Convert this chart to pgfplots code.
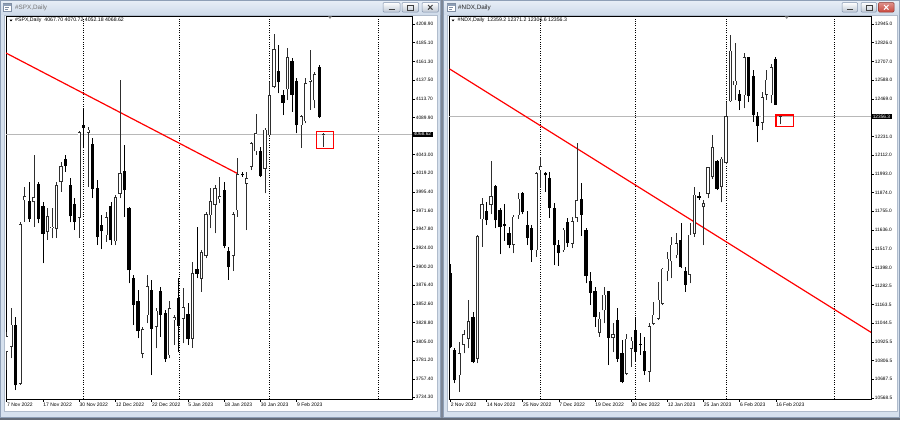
\documentclass[border=0pt]{standalone}
\usepackage{pgfplots}
\usepackage{pgfplotstable}
\pgfplotsset{compat=1.18}
\usepackage{fontspec}
\setmainfont{Liberation Sans}
\definecolor{frame}{HTML}{8E9FB6}
\definecolor{winbg}{HTML}{D6E1EE}
\definecolor{tbtop}{HTML}{E6EDF6}
\definecolor{tbbot}{HTML}{CFDBEA}
\definecolor{sep}{HTML}{7D8796}
\definecolor{btnb}{HTML}{8394AD}
\definecolor{closer}{HTML}{C9483E}
\definecolor{upc}{HTML}{2E2E2E}
\newcommand\lab{\fontsize{4.8bp}{5.5bp}\selectfont}
\newcommand\xlab{\fontsize{5bp}{6bp}\selectfont}
\newcommand\ttl{\fontsize{6.3bp}{7.5bp}\selectfont}
\newcommand\info{\fontsize{5.2bp}{6bp}\selectfont}

\pgfplotstableread{
i o h l c
1 3792.0 3817.4 3768.7 3811.1
2 3798.3 3847.1 3783.5 3825.9
4 3751.7 3957.4 3749.6 3954.0
5 3985.0 4001.9 3957.4 3989.2
7 3982.8 4042.2 3951.0 3987.9
10 3944.7 3974.4 3934.1 3963.8
11 3949.5 3974.4 3936.2 3950.5
12 3948.9 4008.3 3937.0 4003.2
13 4008.3 4033.7 3995.6 4027.4
17 3962.5 4073.2 3937.0 4071.1
19 4071.1 4077.4 4001.9 4074.0
23 3940.4 3970.1 3931.9 3962.5
25 3932.8 3991.3 3927.7 3987.9
26 3993.4 4137.6 3987.1 4018.9
31 3789.9 3823.8 3783.5 3820.4
32 3838.6 3889.5 3828.0 3874.7
34 3823.8 3847.1 3796.2 3843.7
37 3787.7 3856.5 3783.5 3847.1
38 3832.3 3838.6 3800.5 3835.2
40 3834.4 3872.6 3802.6 3848.0
42 3808.9 3906.5 3797.1 3891.7
44 3885.3 3921.3 3868.3 3918.4
45 3914.1 3970.1 3910.7 3966.7
46 3965.9 3999.8 3948.9 3982.8
47 3979.4 4004.0 3942.5 3999.8
48 3986.2 4014.6 3980.7 3989.2
51 3914.1 3970.1 3894.6 3966.7
52 3972.2 4038.0 3963.8 4017.6
54 4006.2 4021.0 3946.8 4012.5
55 4027.4 4059.2 4023.1 4057.1
56 4047.3 4094.4 4042.2 4069.8
58 4025.3 4076.2 3993.4 4074.0
59 4067.7 4135.5 4065.5 4117.7
60 4129.2 4195.8 4127.0 4176.7
63 4126.2 4177.9 4112.2 4166.1
66 4080.4 4093.1 4051.5 4091.0
67 4085.5 4139.8 4082.5 4133.4
68 4135.5 4175.8 4099.5 4137.6
69 4112.2 4148.3 4101.6 4144.9
71 4067.70 4070.72 4052.18 4068.62
}\spxup

\pgfplotstableread{
i o h l c
3 3825.9 3836.5 3743.2 3749.6
6 3982.8 4008.3 3957.4 3960.8
8 4004.9 4008.3 3955.3 3960.8
9 3976.5 3982.8 3904.4 3942.5
14 4036.7 4042.2 4021.0 4028.6
15 4004.0 4013.4 3956.5 3964.6
16 3979.4 3987.1 3946.8 3957.4
18 4080.4 4101.6 4050.7 4077.0
20 4055.8 4063.4 3987.1 3999.8
21 3999.8 4010.4 3927.7 3938.3
22 3953.2 3965.9 3922.2 3945.5
24 3977.3 3982.8 3927.7 3934.1
27 4021.9 4054.9 3963.8 3997.7
28 3974.4 3976.5 3878.9 3895.9
29 3885.3 3889.5 3825.9 3852.2
30 3856.5 3870.4 3808.9 3818.3
33 3870.4 3883.2 3762.3 3821.7
35 3869.2 3874.7 3811.1 3839.5
36 3840.8 3845.0 3779.3 3782.7
39 3859.8 3885.3 3792.0 3825.1
41 3839.5 3853.5 3800.5 3808.1
43 3897.2 3951.0 3885.3 3891.7
49 3997.7 4008.3 3923.5 3926.9
50 3919.2 3925.6 3883.2 3900.1
53 4018.0 4021.0 4014.6 4016.8
57 4046.5 4052.8 4014.6 4015.9
61 4148.3 4182.2 4120.7 4135.5
62 4117.7 4124.9 4093.1 4109.2
64 4161.8 4165.2 4097.4 4119.4
65 4135.5 4139.8 4069.8 4080.4
70 4153.3 4156.7 4088.9 4091.0
}\spxdn

\pgfplotstableread{
i o h l c
3 10714.8 10926.6 10608.9 10852.4
4 10909.6 11000.7 10852.4 10973.2
5 10947.7 11191.3 10884.2 11053.6
7 10820.7 11604.3 10788.9 11593.7
8 11706.0 11837.3 11530.2 11799.2
10 11799.2 12076.6 11735.6 11847.9
15 11545.0 11731.4 11487.8 11718.7
16 11731.4 11869.1 11706.0 11833.1
20 11509.0 12006.7 11466.6 11996.1
21 12017.3 12102.0 11905.1 12038.5
26 11509.0 11646.7 11498.4 11636.1
28 11551.4 11720.8 11519.6 11689.0
29 11714.5 12186.8 11689.0 11824.6
34 10985.9 11117.2 10958.3 11070.6
35 11127.8 11276.0 11043.0 11223.1
37 10952.0 11043.0 10858.8 10973.2
40 10725.3 10973.2 10714.8 10943.5
41 10884.2 10958.3 10767.7 10930.8
45 10736.0 11043.0 10672.4 11021.9
46 11043.0 11180.7 11032.5 11096.0
47 11074.8 11307.8 11064.2 11191.3
48 11170.1 11392.5 11159.5 11388.3
49 11375.6 11494.2 11312.0 11451.8
50 11439.1 11593.7 11329.0 11540.8
51 11477.2 11614.9 11456.1 11551.4
54 11354.4 11678.5 11297.2 11604.3
55 11614.9 11911.4 11593.7 11858.5
57 11784.4 11826.7 11540.8 11805.5
58 11869.1 12038.5 11837.3 12032.2
59 11975.0 12239.7 11958.0 12159.2
61 11911.4 12102.0 11811.9 12087.2
62 12066.0 12447.3 12053.3 12356.2
63 12455.8 12875.1 12451.5 12773.5
64 12557.4 12822.2 12462.1 12582.8
66 12493.9 12758.6 12409.2 12731.1
70 12320.2 12515.1 12271.5 12476.9
71 12498.1 12652.7 12462.1 12589.2
72 12493.9 12688.7 12440.9 12667.6
74 12359.2 12371.2 12306.6 12356.3
}\ndxup

\pgfplotstableread{
i o h l c
1 11360.0 11420.0 10884.2 10894.8
2 10873.6 10884.2 10661.8 10683.0
6 11079.1 11117.2 10788.9 10799.5
9 11752.6 11816.1 11667.9 11699.6
11 11911.4 11922.0 11646.7 11699.6
12 11763.2 11778.0 11481.5 11657.3
13 11669.0 11799.2 11568.3 11665.0
14 11614.9 11657.3 11519.6 11545.0
17 11869.1 11879.7 11735.6 11752.6
18 11667.9 11756.8 11540.8 11587.4
19 11646.7 11667.9 11434.9 11509.0
22 11996.1 12006.7 11879.7 11985.6
23 11964.4 12006.7 11714.5 11778.0
24 11773.8 11805.5 11413.7 11540.8
25 11536.5 11572.5 11409.5 11494.2
27 11684.8 11710.2 11530.2 11555.6
30 11833.1 11932.6 11600.1 11735.6
31 11636.1 11646.7 11297.2 11345.9
32 11307.8 11371.3 11159.5 11240.0
33 11244.3 11276.0 11021.9 11085.4
36 11244.3 11250.0 10778.3 10952.0
38 11064.2 11138.4 10799.5 10820.7
39 10852.4 10937.1 10661.8 10672.4
42 11000.7 11085.4 10799.5 10863.0
43 10911.5 10979.5 10841.8 10907.7
44 10867.3 10958.3 10714.8 10740.2
52 11572.5 11678.5 11392.5 11403.1
53 11375.6 11403.1 11244.3 11290.9
56 11852.1 11879.7 11826.7 11841.5
60 12070.3 12080.9 11890.3 11900.8
65 12498.1 12525.6 12398.6 12455.8
67 12731.1 12737.4 12447.3 12489.6
68 12610.4 12652.7 12324.4 12371.0
69 12356.2 12388.0 12193.1 12299.0
73 12722.6 12737.4 12430.3 12434.6
}\ndxdn

\pgfplotsset{
  mt/.style={
    scale only axis, anchor=south west,
    axis line style={line width=0.6bp, black},
    clip mode=individual,
    tick align=outside,
    major tick length=2.5bp,
    every tick/.style={black, line width=0.5bp},
    xtick pos=left, ytick pos=right, yticklabel pos=right,
    scaled y ticks=false, scaled x ticks=false,
    xticklabel style={font=\xlab, anchor=north west, inner sep=0pt, xshift=0.3bp, yshift=-1.2bp},
    yticklabel style={font=\lab, anchor=west, inner sep=0pt, xshift=1.2bp},
    axis background/.style={fill=white},
  },
  cbar/.style 2 args={draw=none, mark=none, forget plot,
    error bars/.cd, y dir=plus, y explicit, error mark=none,
    error bar style={draw=#1, line width=#2, solid}},
  sepl/.style={black, line width=0.6bp, dash pattern=on 1bp off 1.3bp, forget plot},
}

\begin{document}
\begin{tikzpicture}
\begin{scope}[x=1bp,y=-1bp]
\path[use as bounding box] (0,0) rectangle (900,420);
\fill[winbg!85!gray] (0,0) rectangle (900,420);
% left window
\fill[winbg] (0,0) rectangle (441,418);
\draw[frame, line width=0.8bp] (0.4,0.4) rectangle (440.6,417.6);
\shade[top color=tbtop, bottom color=tbbot] (1,1) rectangle (440,14.5);
\fill[white] (4,15) rectangle (437.5,411);
\draw[frame!70, line width=0.6bp] (4,15) rectangle (437.5,411);
% right window
\fill[winbg] (443,0) rectangle (900,418);
\draw[frame, line width=0.8bp] (443.4,0.4) rectangle (899.6,417.6);
\shade[top color=tbtop, bottom color=tbbot] (444,1) rectangle (899,14.5);
\fill[white] (447,15) rectangle (897,411);
\draw[frame!70, line width=0.6bp] (447,15) rectangle (897,411);
\fill[sep] (441,0) rectangle (443,420);
\fill[sep!80!black] (0,418) rectangle (900,420);
% title icons and texts
\foreach \ox in {0,444} {
  \filldraw[fill=white, draw=frame!90!black, line width=0.5bp] (\ox+3,3.5) rectangle (\ox+11,11);
  \fill[frame] (\ox+3,3.5) rectangle (\ox+11,5.5);
  \draw[frame!90!black, line width=0.4bp] (\ox+5,7.5) -- (\ox+9,7.5) (\ox+5,9.2) -- (\ox+8,9.2);
}
\node[anchor=west, inner sep=0pt, font=\ttl, text=black!55] at (15,7.6) {\#SPX,Daily};
\node[anchor=west, inner sep=0pt, font=\ttl, text=black!85] at (458,7.6) {\#NDX,Daily};
% buttons
\foreach \bx/\bw in {383/17,402/16.5,422/16.5,842/15.5,861/15.5} {
  \shade[top color=white, bottom color=tbbot!80!gray, draw=btnb, rounded corners=1bp, line width=0.5bp] (\bx,2.5) rectangle (\bx+\bw,12);
}
\shade[top color=closer!60!white, bottom color=closer, draw=closer!70!black, rounded corners=1bp, line width=0.5bp] (878.5,2.5) rectangle (894,12);
\draw[black!75, line width=0.9bp] (388.5,9.5) -- (394.5,9.5) (847,9.5) -- (853,9.5);
\draw[black!75, line width=0.5bp] (407.5,5) rectangle (413.5,9.8) (866,5) rectangle (872,9.8);
\draw[black!75, line width=1bp] (428,5) -- (432.5,9.6) (432.5,5) -- (428,9.6);
\draw[white, line width=1bp] (884,5) -- (888.5,9.6) (888.5,5) -- (884,9.6);
\end{scope}

% ===== SPX =====
\begin{axis}[mt, at={(6bp,-399bp)}, width=406bp, height=383bp,
  xmin=0.845, xmax=90.47, ymin=3731.75, ymax=4219.1,
  xtick={1,9,17,25,33,41,49,57,65},
  xticklabels={7 Nov 2022,17 Nov 2022,30 Nov 2022,12 Dec 2022,22 Dec 2022,5 Jan 2023,18 Jan 2023,30 Jan 2023,9 Feb 2023},
  ytick={4208.9,4185.1,4161.3,4137.5,4113.7,4089.9,4043.0,4019.2,3995.4,3971.6,3947.8,3924.0,3900.2,3876.4,3852.6,3828.8,3805.0,3781.2,3757.4,3734.3},
  yticklabels={4208.90,4185.10,4161.30,4137.50,4113.70,4089.90,4043.00,4019.20,3995.40,3971.60,3947.80,3924.00,3900.20,3876.40,3852.60,3828.80,3805.00,3781.20,3757.40,3734.30},
]
\addplot[sepl] coordinates {(18,3731.75) (18,4219.1)};
\addplot[sepl] coordinates {(39,3731.75) (39,4219.1)};
\addplot[sepl] coordinates {(59,3731.75) (59,4219.1)};
\addplot[sepl] coordinates {(83,3731.75) (83,4219.1)};
\addplot[black!28, line width=0.6bp, forget plot] coordinates {(0.845,4068.62) (90.47,4068.62)};
\addplot[red, line width=1.2bp, forget plot] coordinates {(0.845,4172.0) (52,4018.5)};
\addplot[cbar={black}{0.7bp}] table[x=i, y=l, y error plus expr={\thisrow{h}-\thisrow{l}}] {\spxdn};
\addplot[cbar={upc}{0.7bp}] table[x=i, y=l, y error plus expr={\thisrow{h}-\thisrow{l}}] {\spxup};
\addplot[cbar={black}{3.2bp}] table[x=i, y expr={\thisrow{c}-0.45}, y error plus expr={\thisrow{o}-\thisrow{c}+0.9}] {\spxdn};
\addplot[cbar={upc}{3.2bp}] table[x=i, y expr={\thisrow{o}-0.45}, y error plus expr={\thisrow{c}-\thisrow{o}+0.9}] {\spxup};
\addplot[cbar={white}{1.8bp}] table[x=i, y expr={\thisrow{o}+0.45}, y error plus expr={max(\thisrow{c}-\thisrow{o}-0.9,0)}] {\spxup};
\addplot[red, line width=1.5bp, line cap=rect, forget plot] coordinates {(69.4,4050.7) (73.1,4050.7) (73.1,4071.9) (69.4,4071.9) (69.4,4050.7)};
\node[fill=black, text=white, font=\lab, anchor=west, inner xsep=1.6bp, inner ysep=1bp] at (axis cs:90.47,4068.62) {4068.62};
\end{axis}

% ===== NDX =====
\begin{axis}[mt, at={(449bp,-399bp)}, width=422bp, height=383bp,
  xmin=0.71, xmax=94.07, ymin=10562.3, ymax=12995.8,
  xtick={1,9,17,25,33,41,49,57,65,73},
  xticklabels={2 Nov 2022,14 Nov 2022,25 Nov 2022,7 Dec 2022,19 Dec 2022,30 Dec 2022,12 Jan 2023,25 Jan 2023,6 Feb 2023,16 Feb 2023},
  ytick={12945.0,12826.0,12707.0,12588.0,12469.0,12231.0,12112.0,11993.0,11874.0,11755.0,11636.0,11517.0,11398.0,11282.5,11163.5,11044.5,10925.5,10806.5,10687.5,10568.5},
  yticklabels={12945.0,12826.0,12707.0,12588.0,12469.0,12231.0,12112.0,11993.0,11874.0,11755.0,11636.0,11517.0,11398.0,11282.5,11163.5,11044.5,10925.5,10806.5,10687.5,10568.5},
]
\addplot[sepl] coordinates {(21,10562.3) (21,12995.8)};
\addplot[sepl] coordinates {(42,10562.3) (42,12995.8)};
\addplot[sepl] coordinates {(62,10562.3) (62,12995.8)};
\addplot[sepl] coordinates {(86,10562.3) (86,12995.8)};
\addplot[black!28, line width=0.6bp, forget plot] coordinates {(0.71,12356.3) (94.07,12356.3)};
\addplot[red, line width=1.2bp, forget plot] coordinates {(0.87,12659) (94.07,10986)};
\addplot[cbar={black}{0.7bp}] table[x=i, y=l, y error plus expr={\thisrow{h}-\thisrow{l}}] {\ndxdn};
\addplot[cbar={upc}{0.7bp}] table[x=i, y=l, y error plus expr={\thisrow{h}-\thisrow{l}}] {\ndxup};
\addplot[cbar={black}{3.2bp}] table[x=i, y expr={\thisrow{c}-2.2}, y error plus expr={\thisrow{o}-\thisrow{c}+4.4}] {\ndxdn};
\addplot[cbar={upc}{3.2bp}] table[x=i, y expr={\thisrow{o}-2.2}, y error plus expr={\thisrow{c}-\thisrow{o}+4.4}] {\ndxup};
\addplot[cbar={white}{1.8bp}] table[x=i, y expr={\thisrow{o}+2.2}, y error plus expr={max(\thisrow{c}-\thisrow{o}-4.4,0)}] {\ndxup};
\addplot[red, line width=1.5bp, line cap=rect, forget plot] coordinates {(73.0,12292.4) (76.9,12292.4) (76.9,12366.8) (73.0,12366.8) (73.0,12292.4)};
\node[fill=black, text=white, font=\lab, anchor=west, inner xsep=1.6bp, inner ysep=1bp] at (axis cs:94.07,12356.3) {12356.3};
\end{axis}

\begin{scope}[x=1bp,y=-1bp]
\fill[black] (9.5,19.6) -- (12.5,19.6) -- (11,21.4) -- cycle;
\node[anchor=west, inner sep=0pt, font=\info] at (15,20.6) {\#SPX,Daily\ \ 4067.70 4070.72 4052.18 4068.62};
\fill[black] (451.5,19.6) -- (454.5,19.6) -- (453,21.4) -- cycle;
\node[anchor=west, inner sep=0pt, font=\info] at (457.5,20.6) {\#NDX,Daily\ \ 12359.2 12371.2 12306.6 12356.3};
\fill[black!45] (328,16.3) -- (332,16.3) -- (330,19) -- cycle;
\fill[black!45] (784.7,16.3) -- (788.7,16.3) -- (786.7,19) -- cycle;
\end{scope}
\end{tikzpicture}
\end{document}
